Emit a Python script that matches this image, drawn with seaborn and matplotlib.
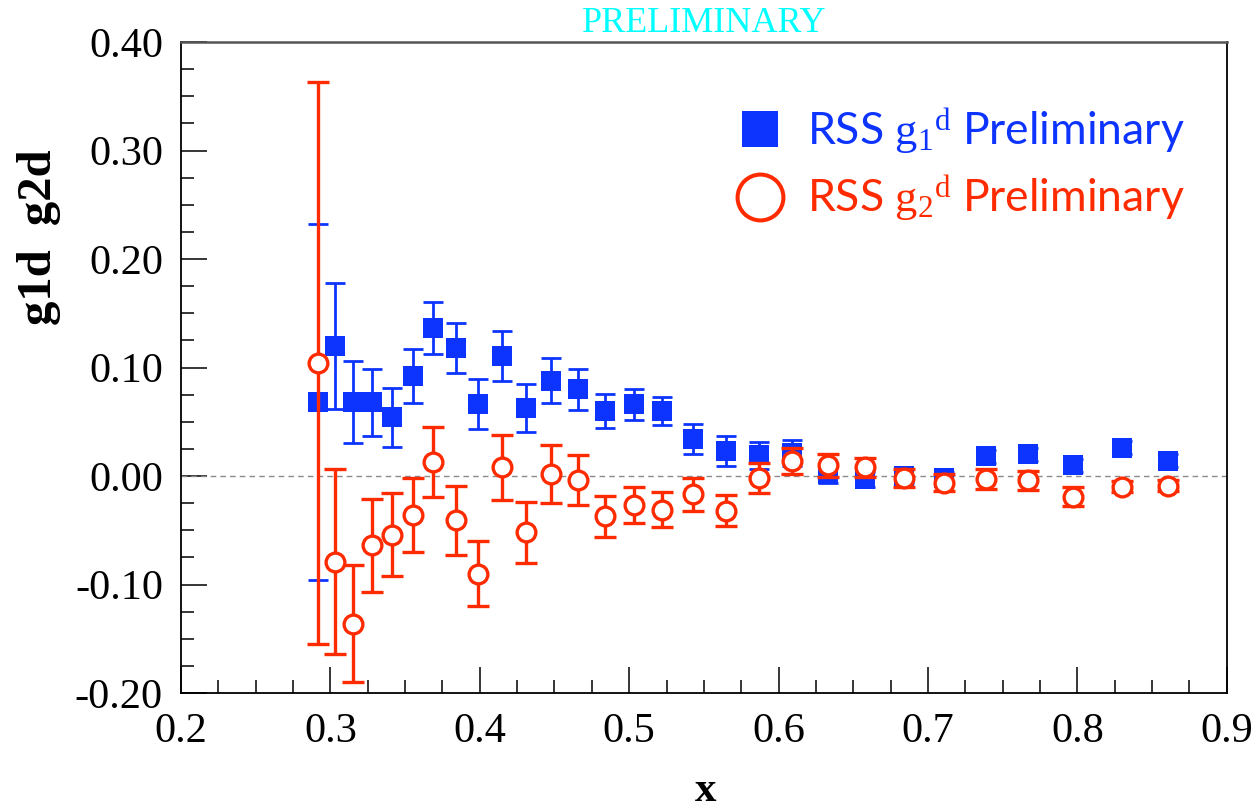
import matplotlib
matplotlib.use('Agg')
import matplotlib.pyplot as plt
from matplotlib.lines import Line2D
from matplotlib.ticker import MultipleLocator, FixedLocator, FixedFormatter
import seaborn as sns
import pandas as pd

# ---------------- data ----------------
x_vals = [0.292, 0.303, 0.315, 0.328, 0.341, 0.355, 0.369, 0.384, 0.399, 0.415,
          0.431, 0.448, 0.466, 0.484, 0.503, 0.522, 0.543, 0.565, 0.587, 0.609,
          0.633, 0.658, 0.684, 0.711, 0.739, 0.767, 0.797, 0.830, 0.861]

g1d = [0.068, 0.120, 0.068, 0.068, 0.054, 0.092, 0.136, 0.118, 0.066, 0.111,
       0.063, 0.088, 0.080, 0.060, 0.066, 0.060, 0.034, 0.023, 0.019, 0.021,
       0.002, -0.003, 0.000, -0.002, 0.018, 0.020, 0.010, 0.026, 0.014]
g1d_err = [0.164, 0.058, 0.038, 0.031, 0.027, 0.025, 0.024, 0.023, 0.023, 0.023,
           0.022, 0.021, 0.019, 0.016, 0.014, 0.013, 0.014, 0.0135, 0.0125, 0.012,
           0.008, 0.007, 0.006, 0.006, 0.006, 0.006, 0.006, 0.006, 0.006]

g2d = [0.104, -0.079, -0.136, -0.064, -0.054, -0.036, 0.013, -0.041, -0.090, 0.008,
       -0.052, 0.002, -0.004, -0.037, -0.027, -0.031, -0.017, -0.032, -0.002, 0.014,
       0.010, 0.008, -0.002, -0.006, -0.003, -0.004, -0.019, -0.010, -0.009]
g2d_err = [0.259, 0.085, 0.054, 0.043, 0.038, 0.034, 0.032, 0.032, 0.030, 0.030,
           0.028, 0.027, 0.023, 0.019, 0.0165, 0.016, 0.015, 0.0143, 0.014, 0.012,
           0.0105, 0.009, 0.008, 0.008, 0.009, 0.009, 0.009, 0.005, 0.005]

x_ticks = [0.2, 0.3, 0.4, 0.5, 0.6, 0.7, 0.8, 0.9]
x_tick_labels = ['0.2', '0.3', '0.4', '0.5', '0.6', '0.7', '0.8', '0.9']
y_ticks = [-0.2, -0.1, 0.0, 0.1, 0.2, 0.3, 0.4]
y_tick_labels = ['-0.20', '-0.10', '0.00', '0.10', '0.20', '0.30', '0.40']

legend_labels = [r'RSS $\mathrm{g}_\mathrm{1}{}^\mathrm{d}$ Preliminary',
                 r'RSS $\mathrm{g}_\mathrm{2}{}^\mathrm{d}$ Preliminary']

BLUE = '#0d34ff'
RED = '#ff2b00'

df = pd.DataFrame({'x': x_vals, 'g1d': g1d, 'g1d_err': g1d_err,
                   'g2d': g2d, 'g2d_err': g2d_err})

# ---------------- style ----------------
sns.set_theme(style='white')
plt.rcParams['font.family'] = ['Liberation Serif', 'DejaVu Serif']
plt.rcParams['axes.unicode_minus'] = False
plt.rcParams['mathtext.fontset'] = 'custom'
plt.rcParams['mathtext.rm'] = 'Liberation Serif'
plt.rcParams['mathtext.it'] = 'Liberation Serif'

W, H = 1257, 811
fig = plt.figure(figsize=(W / 100, H / 100), dpi=100)
ax = fig.add_axes([181 / W, 1 - 693 / H, (1226.7 - 181) / W, (693 - 42) / H])
ax.set_facecolor('white')

# zero line
ax.axhline(0.0, color='#8a8a8a', lw=1.0, ls=(0, (4, 3)), zorder=1)

# g1d
ax.errorbar(df['x'], df['g1d'], yerr=df['g1d_err'], fmt='none', ecolor=BLUE,
            elinewidth=2.0, capsize=7.2, capthick=2.0, zorder=2)
sns.scatterplot(data=df, x='x', y='g1d', marker='s', s=228, color=BLUE,
                linewidth=0, ax=ax, zorder=3, legend=False)
# g2d
ax.errorbar(df['x'], df['g2d'], yerr=df['g2d_err'], fmt='none', ecolor=RED,
            elinewidth=2.4, capsize=7.8, capthick=2.4, zorder=4)
sns.scatterplot(data=df, x='x', y='g2d', marker='o', s=182, facecolor='white',
                edgecolor=RED, linewidth=2.4, ax=ax, zorder=5, legend=False)

# axes limits and ticks
ax.set_xlim(0.2, 0.9)
ax.set_ylim(-0.2, 0.4)
ax.xaxis.set_major_locator(FixedLocator(x_ticks))
ax.xaxis.set_major_formatter(FixedFormatter(x_tick_labels))
ax.yaxis.set_major_locator(FixedLocator(y_ticks))
ax.yaxis.set_major_formatter(FixedFormatter(y_tick_labels))
ax.xaxis.set_minor_locator(MultipleLocator(0.025))
ax.yaxis.set_minor_locator(MultipleLocator(0.025))
ax.tick_params(which='both', direction='in', top=False, right=False,
               bottom=True, left=True, color='black', width=1.1)
ax.tick_params(which='major', length=18.5, labelsize=30.5, labelcolor='black')
ax.tick_params(which='minor', length=9.5)
ax.tick_params(axis='x', which='major', pad=14)
ax.tick_params(axis='y', which='major', pad=13)

for side in ['left', 'bottom', 'right']:
    ax.spines[side].set_color('black')
    ax.spines[side].set_linewidth(1.3)
ax.spines['top'].set_color('#555555')
ax.spines['top'].set_linewidth(1.8)

# axis labels
xl = ax.set_xlabel('x', fontsize=31, fontweight='bold', color='black')
ax.xaxis.set_label_coords(0.502, (693 - 801) / 651)
xl.set_va('baseline')
yl = ax.set_ylabel('g1d  g2d', fontsize=35, fontweight='bold', color='black')
ax.yaxis.set_label_coords((39 - 181) / 1045.7, (693 - 237) / 651)
yl.set_va('center')
yl.set_ha('center')

# legend
handles = [Line2D([], [], marker='s', ls='none', color=BLUE, markersize=26,
                  markeredgewidth=0),
           Line2D([], [], marker='o', ls='none', markerfacecolor='white',
                  markeredgecolor=RED, markersize=33, markeredgewidth=2.9)]
leg = ax.legend(handles, legend_labels, loc='upper left',
                bbox_to_anchor=(733 / W, 1 - 106 / H), bbox_transform=fig.transFigure,
                frameon=False, prop={'family': 'Lato', 'size': 32},
                handlelength=1.2, handletextpad=0.47, labelspacing=0.41,
                borderpad=0, borderaxespad=0)
for t, c in zip(leg.get_texts(), [BLUE, RED]):
    t.set_color(c)

# preliminary tag
fig.text(704 / W, 1 - 23 / H, 'PRELIMINARY', color='#00ffff', fontsize=26,
         ha='center', va='center', family='Liberation Serif')

fig.savefig('out.png', dpi=100, facecolor='white')
